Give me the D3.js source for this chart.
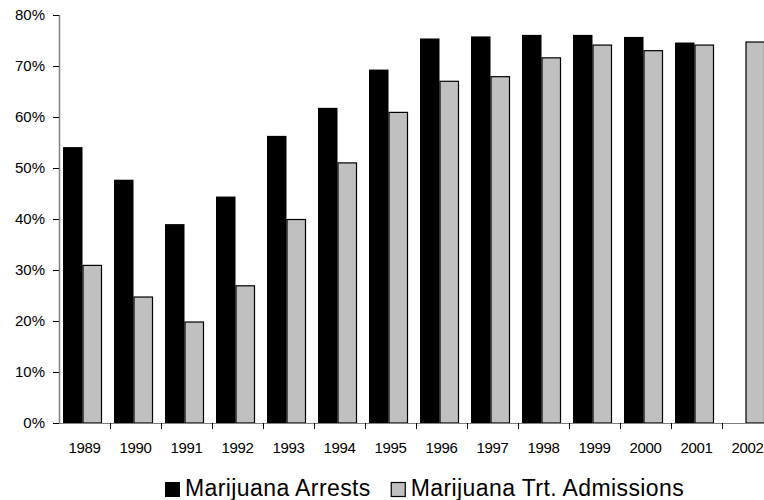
<!DOCTYPE html>
<html>
<head>
<meta charset="utf-8">
<script src="https://cdn.jsdelivr.net/npm/d3@7"></script>
<style>
  body { margin: 0; background: #fff; }
  svg { display: block; font-family: "Liberation Sans", Arial, sans-serif; }
</style>
</head>
<body>
<div id="chart"></div>
<script>
// values (percent)
const years = ["1989", "1990", "1991", "1992", "1993", "1994", "1995",
  "1996", "1997", "1998", "1999", "2000", "2001", "2002"];
const arrests = [54.1, 47.7, 39.0, 44.4, 56.3, 61.8, 69.3, 75.4, 75.8, 76.1, 76.1, 75.7, 74.6, null];
const admissions = [31.0, 24.8, 19.9, 27.0, 40.0, 51.1, 61.0, 67.1, 68.0, 71.7, 74.2, 73.1, 74.2, 74.8];
const yTicks = [0, 10, 20, 30, 40, 50, 60, 70, 80];
const seriesNames = ["Marijuana Arrests", "Marijuana Trt. Admissions"];

const config = {
  width: 764,
  height: 500,
  margin: { top: 15, right: -9, bottom: 77, left: 59 },
};

const svg = d3.select("#chart").append("svg")
  .attr("width", config.width)
  .attr("height", config.height);

const innerW = config.width - config.margin.left - config.margin.right;
const innerH = config.height - config.margin.top - config.margin.bottom;

const g = svg.append("g")
  .attr("transform", `translate(${config.margin.left},${config.margin.top})`);

const x = d3.scaleBand().domain(years).range([0, innerW]).padding(0);
const y = d3.scaleLinear().domain([0, 80]).range([innerH, 0]);

// sub band for the two bars inside each year
const x1 = d3.scaleBand().domain([0, 1])
  .range([4, x.bandwidth() - 8]).padding(0);

const rows = years.map((yr, i) => ({ year: yr, vals: [arrests[i], admissions[i]] }));

const groups = g.selectAll("g.year")
  .data(rows)
  .join("g")
  .attr("class", "year")
  .attr("transform", d => `translate(${x(d.year)},0)`);

groups.selectAll("rect")
  .data(d => d.vals.map((v, k) => ({ k, v })).filter(e => e.v != null))
  .join("rect")
  .attr("x", e => x1(e.k) + (e.k === 1 ? 0.5 : 0))
  .attr("y", e => y(e.v) + (e.k === 1 ? 0.5 : 0))
  .attr("width", e => x1.bandwidth() - (e.k === 1 ? 1 : 0))
  .attr("height", e => innerH - y(e.v) - (e.k === 1 ? 0.5 : 0))
  .attr("fill", e => e.k === 0 ? "#000" : "#c0c0c0")
  .attr("stroke", e => e.k === 1 ? "#000" : "none")
  .attr("stroke-width", 1.2);

// y axis
const yAxis = g.append("g")
  .call(d3.axisLeft(y).tickValues(yTicks).tickFormat(d => d + "%")
    .tickSize(6).tickPadding(8));
yAxis.select(".domain").attr("stroke", "#808080").attr("stroke-width", 1.5)
  .attr("d", `M0.5,${innerH}V0`);
yAxis.selectAll(".tick line").attr("stroke", "#000");
yAxis.selectAll("text").attr("font-size", 15).attr("fill", "#000")
  .attr("font-family", "Liberation Sans, Arial, sans-serif");

// x axis: labels centred, ticks on band edges
const xAxis = g.append("g")
  .attr("transform", `translate(0,${innerH})`)
  .call(d3.axisBottom(x).tickSize(0).tickPadding(19));
xAxis.select(".domain").attr("stroke", "#808080").attr("stroke-width", 1.2)
  .attr("d", `M0,0.5H${innerW}`);
xAxis.selectAll("text").attr("font-size", 15).attr("fill", "#000")
  .attr("letter-spacing", "-0.3px")
  .attr("font-family", "Liberation Sans, Arial, sans-serif");
xAxis.selectAll("line.edge")
  .data(years.slice(1))
  .join("line")
  .attr("class", "edge")
  .attr("x1", d => x(d) + 0.5).attr("x2", d => x(d) + 0.5)
  .attr("y1", 0).attr("y2", 6)
  .attr("stroke", "#000");

// legend
const legend = svg.append("g").attr("transform", "translate(165,482)");
let lx = 0;
seriesNames.forEach((name, k) => {
  legend.append("rect")
    .attr("x", lx + (k === 1 ? 0.5 : 0)).attr("y", k === 1 ? 0.5 : 0)
    .attr("width", k === 1 ? 14 : 15).attr("height", k === 1 ? 14 : 15)
    .attr("fill", k === 0 ? "#000" : "#c0c0c0")
    .attr("stroke", k === 1 ? "#000" : "none")
    .attr("stroke-width", 1.2);
  const t = legend.append("text")
    .attr("x", lx + 20).attr("y", 13.5)
    .attr("font-size", 23)
    .attr("letter-spacing", "0.4px")
    .attr("fill", "#000")
    .text(name);
  lx += 20 + t.node().getComputedTextLength() + 20;
});
</script>
</body>
</html>
